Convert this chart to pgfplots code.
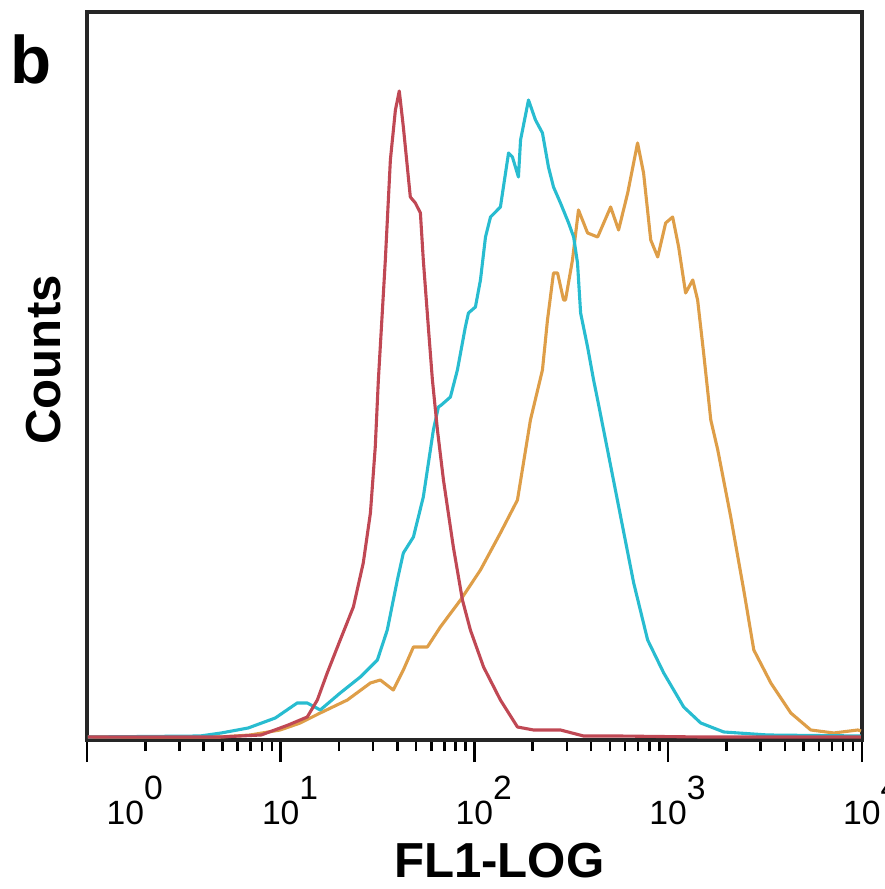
\documentclass[border=0pt]{standalone}
\usepackage{pgfplots}
\pgfplotsset{compat=1.18}
\usepackage{pgfplotstable}
\usepackage{fontspec}
\setmainfont{Liberation Sans}

\definecolor{cred}{RGB}{192,72,84}
\definecolor{ccyan}{RGB}{40,188,208}
\definecolor{corange}{RGB}{222,158,72}

% x is log10(FL1), y is counts in arbitrary units
\pgfplotstableread{
lx y
0.005 3
0.326 3
0.687 3
0.899 5
1.039 15
1.137 23
1.189 40
1.240 67
1.307 100
1.375 133
1.426 177
1.463 227
1.488 293
1.504 360
1.519 410
1.540 480
1.566 580
1.592 630
1.612 649
1.633 613
1.669 543
1.695 537
1.721 527
1.736 480
1.762 413
1.783 360
1.809 310
1.840 260
1.891 193
1.938 140
1.979 110
2.047 73
2.134 40
2.222 13
2.305 10
2.444 10
2.563 4
2.739 4
3.168 3
3.995 3
}\redtab

\pgfplotstableread{
lx y
0.005 3
0.584 4
0.693 7
0.832 12
0.972 22
1.085 37
1.137 37
1.204 30
1.307 47
1.411 63
1.499 80
1.550 110
1.602 160
1.633 187
1.685 203
1.736 243
1.788 310
1.814 333
1.829 335
1.876 343
1.912 370
1.953 413
1.969 427
2.005 433
2.031 460
2.057 503
2.083 523
2.134 533
2.176 587
2.196 583
2.227 563
2.238 600
2.279 640
2.315 620
2.351 607
2.382 573
2.408 553
2.444 537
2.486 517
2.512 503
2.532 477
2.548 427
2.584 393
2.615 360
2.636 340
2.687 290
2.755 223
2.822 157
2.894 100
2.977 67
3.080 33
3.168 17
3.287 8
3.514 5
3.995 4
}\cyantab

\pgfplotstableread{
lx y
0.005 3
0.687 3
0.842 5
0.997 10
1.101 17
1.204 27
1.344 40
1.463 57
1.514 60
1.581 50
1.633 70
1.685 93
1.757 93
1.824 113
1.928 140
2.031 170
2.134 207
2.222 240
2.289 320
2.351 370
2.377 420
2.408 467
2.429 467
2.460 440
2.470 440
2.506 480
2.537 530
2.584 507
2.636 503
2.703 533
2.744 510
2.791 547
2.842 597
2.873 567
2.910 500
2.946 483
2.987 517
3.023 523
3.054 493
3.090 447
3.127 460
3.152 440
3.183 387
3.220 320
3.256 290
3.323 223
3.390 150
3.442 90
3.530 57
3.633 27
3.736 10
3.855 7
3.979 10
3.995 9
}\orangetab

\newcommand{\dec}[2][0pt]{\makebox[0pt][l]{\hspace{#1}\llap{1}0\raisebox{0.75em}{#2}}}

\begin{document}
\begin{tikzpicture}
\useasboundingbox (-1.181,-2.023) rectangle (10.82,10.046);
\clip (-1.181,-2.023) rectangle (10.82,10.046);
\begin{axis}[
  scale only axis,
  width=10.52cm, height=9.883cm,
  xmin=0, xmax=4, ymin=0, ymax=728,
  axis line style={line width=1.3pt, black!85},
  xtick={0,1,2,3,4},
  xticklabels={\dec[0.52cm]{0},\dec{1},\dec{2},\dec{3},\dec{4}},
  minor xtick={0.30103,0.47712,0.60206,0.69897,0.77815,0.84510,0.90309,0.95424,
    1.30103,1.47712,1.60206,1.69897,1.77815,1.84510,1.90309,1.95424,
    2.30103,2.47712,2.60206,2.69897,2.77815,2.84510,2.90309,2.95424,
    3.30103,3.47712,3.60206,3.69897,3.77815,3.84510,3.90309,3.95424},
  ytick=\empty,
  xtick pos=lower,
  tick align=outside,
  major tick length=0.3cm,
  minor tick length=0.15cm,
  every tick/.style={black, line width=1pt},
  xticklabel style={font=\fontsize{13}{13}\selectfont, anchor=north, yshift=-0.15cm, inner sep=1pt},
  xlabel={\bfseries FL1-LOG},
  xlabel style={font=\fontsize{19}{19}\selectfont, at={(axis description cs:0.532,0)}, anchor=base, yshift=-1.873cm, inner sep=1pt},
  ylabel={\bfseries Counts},
  ylabel style={font=\fontsize{19}{19}\selectfont, at={(axis description cs:0,0.522)}, anchor=center, yshift=0.584cm},
  clip=false,
]
\addplot[corange, line width=1.2pt, line join=round] table[x=lx, y=y] {\orangetab};
\addplot[ccyan, line width=1.2pt, line join=round] table[x=lx, y=y] {\cyantab};
\addplot[cred, line width=1.2pt, line join=round] table[x=lx, y=y] {\redtab};
\node[font=\fontsize{26}{26}\selectfont\bfseries, anchor=center] at ([xshift=-0.76cm, yshift=-0.64cm]rel axis cs:0,1) {b};
\end{axis}
\end{tikzpicture}
\end{document}
